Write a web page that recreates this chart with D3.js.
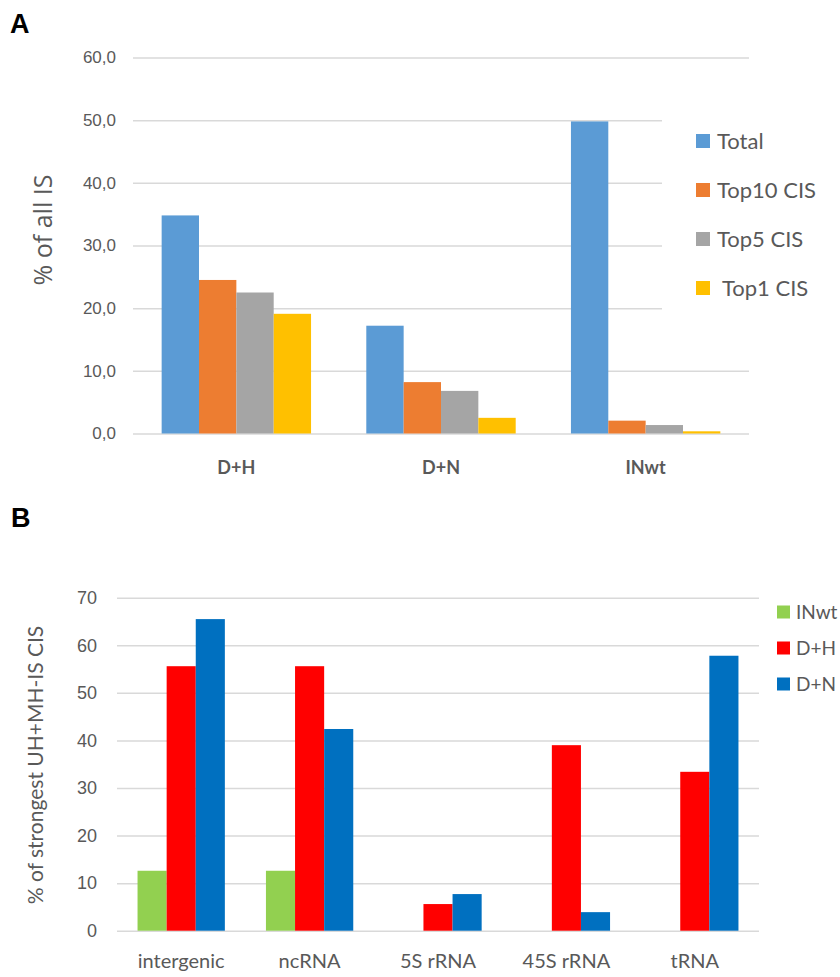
<!DOCTYPE html>
<html>
<head>
<meta charset="utf-8">
<script src="https://cdn.jsdelivr.net/npm/d3@7"></script>
<style>
  body { margin: 0; background: #fff; }
  svg { font-family: Lato, 'Open Sans', sans-serif; }
</style>
</head>
<body>
<svg id="chart" width="840" height="977"></svg>
<script>
// panel A data
const groupsA = ['D+H', 'D+N', 'INwt'];
const seriesA = ['Total', 'Top10 CIS', 'Top5 CIS', ' Top1 CIS'];
const colorsA = ['#5b9bd5', '#ed7d31', '#a5a5a5', '#ffc000'];
const valuesA = [
  [34.8, 24.5, 22.5, 19.1],
  [17.2, 8.2, 6.8, 2.5],
  [49.8, 2.05, 1.35, 0.35]
];
const ticksA = [0, 10, 20, 30, 40, 50, 60];

// panel B data
const groupsB = ['intergenic', 'ncRNA', '5S rRNA', '45S rRNA', 'tRNA'];
const seriesB = ['INwt', 'D+H', 'D+N'];
const colorsB = ['#92d050', '#ff0000', '#0070c0'];
const valuesB = [
  [12.6, 55.6, 65.5],
  [12.6, 55.6, 42.4],
  [0, 5.6, 7.7],
  [0, 39.0, 3.9],
  [0, 33.4, 57.8]
];
const ticksB = [0, 10, 20, 30, 40, 50, 60, 70];

const svg = d3.select('#chart');
const textColor = '#595959';
const gridColor = '#d9d9d9';

function drawPanel(cfg) {
  const g = svg.append('g');

  const y = d3.scaleLinear().domain(cfg.yDomain).range([cfg.y0, cfg.y1]);
  const x0 = d3.scaleBand().domain(cfg.groups).range([cfg.xL, cfg.xR])
    .paddingInner(cfg.padIn).paddingOuter(cfg.padOut);
  const x1 = d3.scaleBand().domain(d3.range(cfg.series.length)).range([0, x0.bandwidth()]);

  // gridlines + y labels
  const yAxis = g.append('g')
    .attr('transform', 'translate(' + cfg.xL + ',0)')
    .call(d3.axisLeft(y).tickValues(cfg.ticks).tickSize(-(cfg.xR - cfg.xL))
      .tickPadding(cfg.tickPad).tickFormat(cfg.fmt));
  yAxis.select('.domain').remove();
  yAxis.selectAll('line').attr('stroke', gridColor).attr('stroke-width', 1.5);
  yAxis.selectAll('text')
    .attr('fill', textColor)
    .style('font-size', cfg.tickFont + 'px');

  // bars
  const grp = g.selectAll('.grp')
    .data(cfg.values)
    .enter()
    .append('g')
    .attr('transform', (d, i) => 'translate(' + x0(cfg.groups[i]) + ',0)');
  grp.selectAll('rect')
    .data(d => d)
    .enter()
    .append('rect')
    .attr('x', (d, j) => x1(j))
    .attr('width', x1.bandwidth())
    .attr('y', d => y(d))
    .attr('height', d => y(0) - y(d))
    .attr('fill', (d, j) => cfg.colors[j]);

  // x labels
  g.selectAll('.xlab')
    .data(cfg.groups)
    .enter()
    .append('text')
    .attr('x', d => x0(d) + x0.bandwidth() / 2)
    .attr('y', cfg.xLabY)
    .attr('text-anchor', 'middle')
    .attr('fill', textColor)
    .style('font-size', cfg.xFont + 'px')
    .style('font-weight', cfg.xBold ? 'bold' : 'normal')
    .text(d => d);

  // y title
  g.append('text')
    .attr('transform', 'translate(' + cfg.titleX + ',' + cfg.titleY + ') rotate(-90)')
    .attr('text-anchor', 'middle')
    .attr('fill', textColor)
    .style('font-family', cfg.titleFamily)
    .style('font-size', cfg.titleFont + 'px')
    .text(cfg.title);

  // legend
  const leg = g.append('g');
  if (cfg.legBox) {
    leg.append('rect')
      .attr('x', cfg.legBox[0]).attr('y', cfg.legBox[1])
      .attr('width', cfg.legBox[2]).attr('height', cfg.legBox[3])
      .attr('fill', '#fff');
  }
  cfg.series.forEach((s, i) => {
    const cy = cfg.legY + i * cfg.legStep;
    leg.append('rect')
      .attr('x', cfg.legX)
      .attr('y', cy - cfg.legSq / 2)
      .attr('width', cfg.legSq)
      .attr('height', cfg.legSq)
      .attr('fill', cfg.colors[i]);
    leg.append('text')
      .attr('x', cfg.legX + cfg.legSq + cfg.legGap)
      .attr('y', cy)
      .attr('dy', '0.35em')
      .attr('fill', textColor)
      .style('font-size', cfg.legFont + 'px')
      .style('white-space', 'pre')
      .text(s);
  });

  // panel letter
  svg.append('text')
    .attr('x', cfg.letterX)
    .attr('y', cfg.letterY)
    .style('font-family', 'Liberation Sans, Arial, sans-serif')
    .style('font-weight', 'bold')
    .style('font-size', '27px')
    .attr('fill', '#000')
    .text(cfg.letter);
}

drawPanel({
  groups: groupsA, series: seriesA, colors: colorsA, values: valuesA, ticks: ticksA,
  yDomain: [0, 60], y0: 433.5, y1: 57.5,
  xL: 133, xR: 749, padIn: 0.27, padOut: 0.14,
  tickPad: 17, tickFont: 17, fmt: d => d3.format('.1f')(d).replace('.', ','),
  xLabY: 474, xFont: 18, xBold: true,
  title: '% of all IS', titleX: 52, titleY: 230, titleFont: 25, titleFamily: "'Open Sans', sans-serif",
  legBox: [662, 110, 88, 220],
  legX: 696, legY: 141, legStep: 49, legSq: 14, legGap: 7, legFont: 22,
  letter: 'A', letterX: 10, letterY: 33
});

drawPanel({
  groups: groupsB, series: seriesB, colors: colorsB, values: valuesB, ticks: ticksB,
  yDomain: [0, 70], y0: 930.7, y1: 597.7,
  xL: 117, xR: 759, padIn: 0.32, padOut: 0.16,
  tickPad: 20, tickFont: 18, fmt: d3.format('d'),
  xLabY: 968, xFont: 20, xBold: false,
  title: '% of strongest UH+MH-IS CIS', titleX: 43, titleY: 765, titleFont: 21, titleFamily: 'Lato, sans-serif',
  legBox: null,
  legX: 777, legY: 612, legStep: 36, legSq: 13, legGap: 6, legFont: 19,
  letter: 'B', letterX: 11, letterY: 527
});
</script>
</body>
</html>
